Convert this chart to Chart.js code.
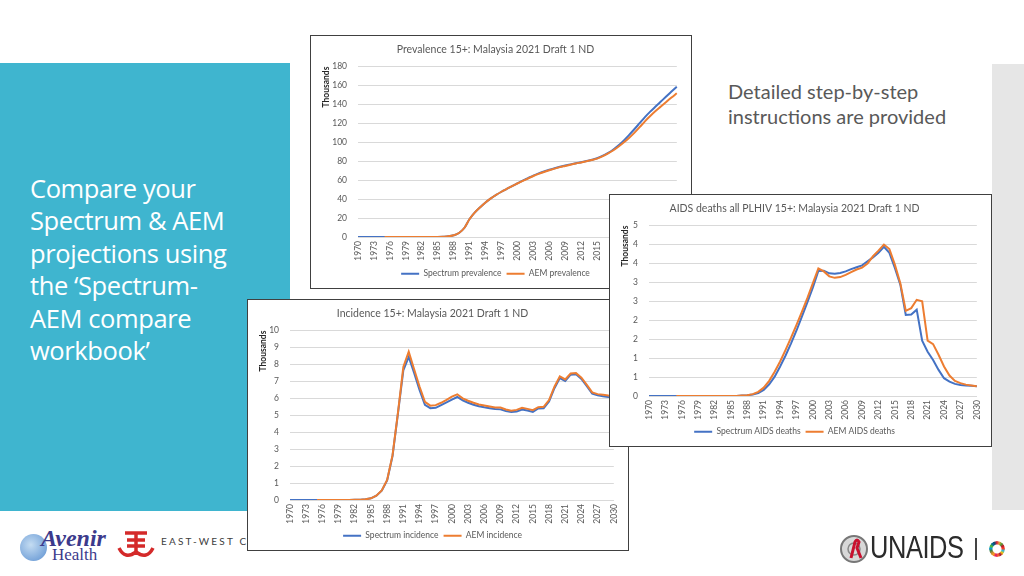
<!DOCTYPE html>
<html>
<head>
<meta charset="utf-8">
<script src="https://cdn.jsdelivr.net/npm/chart.js@4.4.1/dist/chart.umd.min.js"></script>
<style>
  html, body { margin: 0; padding: 0; }
  body { width: 1024px; height: 576px; position: relative; overflow: hidden; background: #fff; font-family: Lato, "Open Sans", sans-serif; }
  .panel { position: absolute; left: 0; top: 63px; width: 290px; height: 448px; background: #3fb5cf; z-index: 1; }
  .greybar { position: absolute; left: 992px; top: 64px; width: 32px; height: 446px; background: #e6e6e6; }
  .headline { position: absolute; left: 30px; top: 172px; color: #fff; font-family: "Open Sans", sans-serif; font-size: 25.5px; letter-spacing: -0.4px; line-height: 32.4px; z-index: 2; }
  .note { position: absolute; left: 728px; top: 79px; color: #595959; font-size: 20px; line-height: 24.7px; }
  .box { position: absolute; background: #fff; border: 1px solid #404040; }
  .box canvas { display: block; }
  #boxPrev { left: 310px; top: 35px; z-index: 3; }
  #boxInc { left: 247px; top: 299px; z-index: 4; }
  #boxDeaths { left: 609px; top: 194px; z-index: 5; }
  .logo { position: absolute; }
</style>
</head>
<body>
<div class="panel"></div>
<div class="greybar"></div>
<div class="headline">Compare your<br>Spectrum &amp; AEM<br>projections using<br>the ‘Spectrum-<br>AEM compare<br>workbook’</div>
<div class="note">Detailed step-by-step<br>instructions are provided</div>

<div class="box" id="boxPrev"><canvas id="prevChart" width="380" height="252"></canvas></div>
<div class="box" id="boxInc"><canvas id="incChart" width="380" height="250"></canvas></div>
<div class="box" id="boxDeaths"><canvas id="deathsChart" width="381" height="251"></canvas></div>

<!-- logos along the bottom -->
<div class="logo" style="left:20px;top:534px;width:27px;height:27px;border-radius:50%;background:radial-gradient(circle at 40% 40%, #c4dcf2, #5a8fd0);"></div>
<div class="logo" style="left:41px;top:525px;font-family:'Liberation Serif',serif;font-style:italic;font-weight:bold;font-size:24px;color:#3c3a8c;">Avenir</div>
<div class="logo" style="left:52px;top:545px;font-family:'Liberation Serif',serif;font-size:17px;color:#3c3a8c;">Health</div>
<svg class="logo" style="left:117px;top:530px" width="38" height="32" viewBox="0 0 38 32">
  <g fill="none" stroke="#d42a2a" stroke-width="3.5">
    <line x1="8" y1="3" x2="30" y2="3"/>
    <line x1="19" y1="3" x2="19" y2="22"/>
    <line x1="10" y1="10" x2="28" y2="10"/>
    <line x1="10" y1="16" x2="28" y2="16"/>
    <path d="M2 18 Q8 30 19 22 Q30 30 36 18"/>
  </g>
</svg>
<div class="logo" style="left:161px;top:535px;font-size:10px;letter-spacing:2.2px;color:#404040;">EAST-WEST CENTER</div>
<svg class="logo" style="left:838px;top:534px" width="32" height="30" viewBox="0 0 32 30">
  <circle cx="16" cy="15" r="13" fill="#d8d8d8" stroke="#777" stroke-width="2"/>
  <circle cx="16" cy="15" r="6" fill="none" stroke="#888" stroke-width="1.5"/>
  <path d="M13 24 L17 8 Q19 4 21 8 L19 14 L23 24" fill="none" stroke="#c8102e" stroke-width="3"/>
</svg>
<div class="logo" style="left:870px;top:530px;font-family:'Liberation Sans',sans-serif;font-size:31px;color:#2b2b2b;transform:scaleX(0.82);transform-origin:left top;letter-spacing:-0.5px;">UNAIDS</div>
<div class="logo" style="left:975px;top:538px;width:2px;height:22px;background:#444;"></div>
<div class="logo" style="left:989px;top:541px;width:16px;height:16px;border-radius:50%;background:conic-gradient(#e5243b,#dda63a,#4c9f38,#c5192d,#ff3a21,#26bde2,#fcc30b,#a21942,#fd6925,#dd1367,#fd9d24,#bf8b2e,#3f7e44,#0a97d9,#56c02b,#00689d,#19486a,#e5243b);-webkit-mask:radial-gradient(circle,transparent 4px,#000 5px);mask:radial-gradient(circle,transparent 4px,#000 5px);"></div>

<script>
const years = [
  1970, 1971, 1972, 1973, 1974, 1975, 1976, 1977, 1978, 1979,
  1980, 1981, 1982, 1983, 1984, 1985, 1986, 1987, 1988, 1989,
  1990, 1991, 1992, 1993, 1994, 1995, 1996, 1997, 1998, 1999,
  2000, 2001, 2002, 2003, 2004, 2005, 2006, 2007, 2008, 2009,
  2010, 2011, 2012, 2013, 2014, 2015, 2016, 2017, 2018, 2019,
  2020, 2021, 2022, 2023, 2024, 2025, 2026, 2027, 2028, 2029,
  2030
];

// thousands
const prevSpectrum = [
  0, 0, 0, 0, 0, 0, 0, 0, 0, 0,
  0, 0, 0, 0, 0, 0.1, 0.3, 0.7, 1.8, 4.2,
  9.5, 19, 26, 31.5, 36.5, 40.8, 44.5, 47.8, 50.8, 53.8,
  56.7, 59.5, 62.2, 64.9, 67.2, 69.2, 71, 72.7, 74.2, 75.5,
  76.7, 77.9, 79, 80.2, 81.6, 83.2, 85.6, 88.6, 92.2, 96.6,
  101.8, 107.6, 113.8, 120.2, 126.6, 132.4, 137.8, 143.1, 148.4, 153.6,
  158.8
];
const prevAem = [
  null, null, null, null, null, 0, 0, 0, 0, 0,
  0, 0, 0, 0, 0, 0.1, 0.3, 0.7, 1.8, 4.2,
  9.5, 19, 26, 31.5, 36.5, 40.8, 44.5, 47.8, 50.8, 53.8,
  56.5, 59.2, 61.8, 64.4, 66.7, 68.7, 70.5, 72.2, 73.8, 75.1,
  76.4, 77.7, 78.8, 80, 81.3, 82.8, 85.1, 88, 91.4, 95.4,
  99.8, 104.6, 110, 116, 122.2, 127.8, 133, 137.8, 142.6, 147.3,
  151.8
];

const incSpectrum = [
  0, 0, 0, 0, 0, 0, 0, 0, 0, 0,
  0, 0, 0.01, 0.02, 0.04, 0.1, 0.25, 0.55, 1.15, 2.6,
  5.1, 7.65, 8.45, 7.5, 6.5, 5.62, 5.42, 5.44, 5.6, 5.76,
  5.93, 6.08, 5.88, 5.74, 5.62, 5.53, 5.47, 5.42, 5.37, 5.35,
  5.25, 5.19, 5.23, 5.34, 5.28, 5.2, 5.4, 5.42, 5.82, 6.6,
  7.2, 7.02, 7.4, 7.42, 7.15, 6.72, 6.28, 6.18, 6.12, 6.08,
  6.05
];
const incAem = [
  null, null, null, null, null, 0, 0, 0, 0, 0,
  0, 0, 0.01, 0.02, 0.04, 0.1, 0.26, 0.57, 1.18, 2.65,
  5.15, 7.85, 8.75, 7.72, 6.7, 5.8, 5.57, 5.6, 5.74, 5.91,
  6.1, 6.24, 6.0, 5.86, 5.74, 5.64, 5.58, 5.52, 5.46, 5.46,
  5.34, 5.27, 5.32, 5.44, 5.38, 5.3, 5.48, 5.5, 5.9, 6.69,
  7.3, 7.12, 7.47, 7.49, 7.22, 6.8, 6.35, 6.25, 6.21, 6.17,
  6.14
];

const deathsSpectrum = [
  0, 0, 0, 0, 0, 0, 0, 0, 0, 0,
  0, 0, 0, 0, 0, 0, 0, 0.01, 0.02, 0.04,
  0.08, 0.16, 0.31, 0.51, 0.78, 1.07, 1.39, 1.73, 2.1, 2.48,
  2.87, 3.3, 3.31, 3.24, 3.23, 3.25, 3.29, 3.35, 3.4, 3.45,
  3.56, 3.66, 3.78, 3.94, 3.78, 3.38, 2.94, 2.14, 2.15, 2.28,
  1.46, 1.17, 0.95, 0.69, 0.47, 0.38, 0.32, 0.29, 0.28, 0.27,
  0.26
];
const deathsAem = [
  null, null, null, null, null, 0, 0, 0, 0, 0,
  0, 0, 0, 0, 0, 0, 0, 0.01, 0.02, 0.05,
  0.11, 0.22, 0.4, 0.64, 0.91, 1.22, 1.54, 1.88, 2.23, 2.59,
  2.98, 3.37, 3.29, 3.16, 3.12, 3.14, 3.2, 3.27, 3.34, 3.39,
  3.5, 3.69, 3.84, 4.0, 3.88, 3.47, 2.98, 2.25, 2.32, 2.54,
  2.5, 1.46, 1.37, 1.09, 0.78, 0.54, 0.4, 0.34, 0.3, 0.28,
  0.26
];

const blue = '#4472C4';
const orange = '#ED7D31';
const grid = '#d9d9d9';
const grey = '#595959';

Chart.defaults.font.family = 'Lato, "Open Sans", sans-serif';

function lineChart(id, cfg) {
  const line = (label, data, color, order) => ({
    label, data, order,
    borderColor: color, backgroundColor: color,
    borderWidth: 2, pointRadius: 0,
    tension: cfg.smooth ? 0.4 : 0,
    cubicInterpolationMode: cfg.smooth ? 'monotone' : 'default'
  });

  new Chart(document.getElementById(id), {
    type: 'line',
    data: {
      labels: years,
      datasets: [
        line(cfg.names[0], cfg.spectrum, blue, 1),
        line(cfg.names[1], cfg.aem, orange, 0)
      ]
    },
    options: {
      responsive: false,
      animation: false,
      layout: { padding: { left: 0, right: cfg.padRight, top: 0, bottom: 0 } },
      plugins: {
        title: {
          display: true, text: cfg.title, color: grey,
          font: { size: 10.5, weight: 'normal' },
          padding: { top: 7.5, bottom: 10.5 }
        },
        legend: {
          position: 'bottom',
          labels: {
            usePointStyle: true, pointStyle: 'line', pointStyleWidth: 18,
            color: grey, font: { size: 8.5 }, padding: 5,
            sort: (a, b) => a.datasetIndex - b.datasetIndex
          }
        },
        tooltip: { enabled: false }
      },
      scales: {
        x: {
          grid: { display: false, drawTicks: false },
          border: { color: grid },
          ticks: {
            autoSkip: false, minRotation: 90, maxRotation: 90, padding: 4,
            color: grey, font: { size: 8.5 },
            callback: (v, i) => (i % 3 === 0 ? years[i] : null)
          },
          afterFit: s => { s.height = cfg.xHeight; }
        },
        y: {
          min: 0, max: cfg.yMax,
          grid: { color: grid, drawTicks: false },
          border: { display: false },
          ticks: {
            stepSize: cfg.yStep, padding: 11, color: grey, font: { size: 8.5 },
            callback: cfg.yFormat || (v => v)
          },
          title: {
            display: true, text: 'Thousands', align: 'end', color: '#262626',
            font: { size: 8.5, weight: 'bold' }, padding: { top: 10, bottom: 0 }
          },
          afterFit: s => { s.width = cfg.yWidth; }
        }
      }
    }
  });
}

lineChart('prevChart', {
  title: 'Prevalence 15+: Malaysia 2021 Draft 1 ND',
  names: ['Spectrum prevalence', 'AEM prevalence'],
  spectrum: prevSpectrum, aem: prevAem,
  yMax: 180, yStep: 20, yWidth: 47, padRight: 11, xHeight: 27.5, smooth: true
});

lineChart('incChart', {
  title: 'Incidence 15+: Malaysia 2021 Draft 1 ND',
  names: ['Spectrum incidence', 'AEM incidence'],
  spectrum: incSpectrum, aem: incAem,
  yMax: 10, yStep: 1, yWidth: 42, padRight: 11, xHeight: 26.5, smooth: false
});

lineChart('deathsChart', {
  title: 'AIDS deaths all PLHIV 15+: Malaysia 2021 Draft 1 ND',
  names: ['Spectrum AIDS deaths', 'AEM AIDS deaths'],
  spectrum: deathsSpectrum, aem: deathsAem,
  yMax: 4.5, yStep: 0.5, yWidth: 39, padRight: 12, xHeight: 26.5, smooth: false,
  yFormat: v => Math.round(v)
});
</script>
</body>
</html>
